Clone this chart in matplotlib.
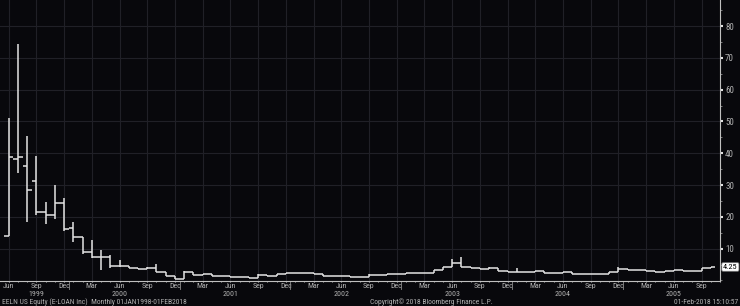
import numpy as np
import matplotlib
matplotlib.use("Agg")
import matplotlib.pyplot as plt
from matplotlib.ticker import MultipleLocator
from matplotlib import font_manager

names = set(f.name for f in font_manager.fontManager.ttflist)
fams = [f for f in ['Liberation Sans Narrow', 'DejaVu Sans Condensed', 'Roboto Condensed'] if f in names]
plt.rcParams['font.family'] = fams + ['DejaVu Sans']
narrow = len(fams) > 0

# monthly bars, Jun 1999 .. Oct 2005
months = ['Jun', 'Jul', 'Aug', 'Sep', 'Oct', 'Nov', 'Dec', 'Jan', 'Feb', 'Mar', 'Apr', 'May']
start_year = 1999
opens = [14.0, 38.2, 36.1, 31.4, 21.5, 20.7, 24.3, 16.5, 13.6, 8.9, 7.3, 7.5,
         4.7, 4.7, 4.0, 3.5, 4.0, 2.8, 1.4, 0.4, 2.8, 1.7, 1.9, 1.4,
         1.4, 1.2, 1.2, 0.7, 1.7, 1.4, 1.9, 2.3, 2.3, 2.3, 2.0, 1.4,
         1.4, 1.4, 1.2, 1.2, 1.6, 1.7, 1.9, 1.9, 2.4, 2.4, 2.4, 3.3,
         4.3, 5.6, 4.1, 3.9, 3.7, 3.8, 3.1, 2.8, 2.6, 2.8, 3.1, 2.3,
         2.3, 2.6, 1.9, 1.9, 2.0, 2.0, 2.6, 3.5, 3.4, 3.3, 3.0, 2.7,
         2.9, 3.2, 3.1, 3.1, 4.0]
highs = [51.0, 74.4, 45.5, 39.2, 24.8, 30.0, 25.8, 18.3, 13.6, 12.7, 9.6, 8.0,
         6.4, 4.7, 4.0, 4.2, 5.1, 2.8, 1.4, 3.0, 2.8, 1.9, 1.9, 1.4,
         1.4, 1.2, 1.2, 1.9, 1.7, 1.9, 2.3, 2.4, 2.3, 2.3, 2.0, 1.4,
         1.4, 1.4, 1.2, 1.9, 1.7, 1.9, 1.9, 2.4, 2.4, 2.4, 3.3, 4.3,
         6.9, 7.5, 4.1, 3.9, 4.1, 3.8, 3.1, 3.8, 2.8, 3.1, 3.1, 2.3,
         2.6, 2.6, 1.9, 2.0, 2.0, 2.6, 4.3, 3.5, 3.4, 3.3, 3.0, 2.9,
         3.2, 3.2, 3.1, 4.0, 4.25]
lows = [14.0, 33.7, 18.5, 20.6, 17.8, 19.2, 15.7, 12.2, 8.2, 7.0, 3.3, 3.8,
        4.3, 4.0, 3.5, 3.5, 2.8, 1.4, 0.4, 0.4, 1.7, 1.7, 1.4, 1.4,
        1.2, 1.2, 0.7, 0.7, 1.4, 1.4, 1.9, 2.3, 2.3, 2.0, 1.4, 1.4,
        1.4, 1.2, 1.2, 1.2, 1.6, 1.7, 1.9, 1.9, 2.4, 2.4, 2.4, 3.3,
        4.3, 4.1, 3.9, 3.7, 3.7, 3.1, 2.8, 2.6, 2.6, 2.8, 2.3, 2.3,
        2.3, 1.9, 1.9, 1.9, 2.0, 2.0, 2.6, 3.4, 3.3, 3.0, 2.7, 2.7,
        2.9, 3.1, 3.1, 3.1, 4.0]
closes = [38.7, 38.9, 28.5, 21.5, 20.6, 24.3, 16.2, 13.6, 8.9, 7.3, 7.5, 4.7,
          4.7, 4.0, 3.5, 4.0, 2.8, 1.4, 0.4, 2.8, 1.7, 1.9, 1.4, 1.4,
          1.2, 1.2, 0.7, 1.7, 1.4, 1.9, 2.3, 2.3, 2.3, 2.0, 1.4, 1.4,
          1.4, 1.2, 1.2, 1.6, 1.7, 1.9, 1.9, 2.4, 2.4, 2.4, 3.3, 4.3,
          5.6, 4.1, 3.9, 3.7, 3.8, 3.1, 2.8, 2.6, 2.8, 3.1, 2.3, 2.3,
          2.6, 1.9, 1.9, 2.0, 2.0, 2.6, 3.5, 3.4, 3.3, 3.0, 2.7, 2.9,
          3.2, 3.1, 3.1, 4.0, 4.25]
last_price = 4.25

bg = '#08080c'
grid_c = '#202027'
txt_c = '#b0b0b0'
bar_c = '#e4e4e4'

x = np.arange(len(closes))

fig = plt.figure(figsize=(7.4, 3.06), dpi=100, facecolor=bg)
ax = fig.add_axes([0.0, 25 / 306, 720 / 740, 281 / 306])
ax.set_facecolor(bg)

ax.vlines(x, lows, highs, color=bar_c, lw=1.1)
ax.hlines(opens, x - 0.5, x, color=bar_c, lw=1.1)
ax.hlines(closes, x, x + 0.5, color=bar_c, lw=1.1)

ax.set_xlim(-0.94, 77.0)
ax.set_ylim(-0.16, 88.2)

lab_fs = 5.7 if narrow else 5.0

# x ticks every 3 months
tick_idx = np.arange(0, len(closes), 3)
ax.set_xticks(tick_idx)
ax.set_xticklabels([months[i % 12] for i in tick_idx], fontsize=lab_fs, color=txt_c)
ax.xaxis.set_minor_locator(MultipleLocator(1))
ax.tick_params(axis='x', which='major', length=1.0, color='#d0d0d0', pad=0.2)
ax.tick_params(axis='x', which='minor', length=1.0, color='#d0d0d0')

# year labels and separators
trans = ax.get_xaxis_transform()
year_pos = [3, 12, 24, 36, 48, 60, 72]
for xp in year_pos:
    yr = start_year + (xp + 5) // 12
    ax.text(xp, -0.047, str(yr), transform=trans, ha='center', va='center',
            fontsize=lab_fs, color=txt_c)
for sep in [6.5, 18.5, 30.5, 42.5, 54.5, 66.5]:
    ax.plot([sep, sep], [0, -0.03], transform=trans, color='#8a8a8a', lw=0.6,
            clip_on=False)

# y axis on the right
ax.yaxis.tick_right()
ax.set_yticks(np.arange(10, 81, 10))
ax.set_yticklabels([str(v) for v in range(10, 81, 10)], fontsize=lab_fs + 0.8, color=txt_c)
ax.yaxis.set_minor_locator(MultipleLocator(5))
ax.tick_params(axis='y', which='major', length=2.5, width=1.5, color='#e0e0e0', pad=1.2)
ax.tick_params(axis='y', which='minor', length=1.5, color='#909090')

ax.grid(True, which='major', color=grid_c, lw=0.8)
for s in ['top', 'left']:
    ax.spines[s].set_visible(False)
for s in ['right', 'bottom']:
    ax.spines[s].set_color('#c0c0c0')
    ax.spines[s].set_linewidth(0.8)

ax.annotate('%.2f' % last_price, xy=(1.0, last_price), xycoords=('axes fraction', 'data'),
            xytext=(2.2, 0), textcoords='offset points', ha='left', va='center',
            fontsize=lab_fs + 0.3, color='black', annotation_clip=False,
            bbox=dict(boxstyle='round,pad=0.15', fc='white', ec='#808080', lw=0.5))

foot_fs = 5.4 if narrow else 4.2
fig.text(0.003, 0.012, 'EELN US Equity (E-LOAN Inc)  Monthly 01JAN1998-01FEB2018',
         fontsize=foot_fs, color=txt_c, ha='left', va='center')
fig.text(0.5, 0.012, 'Copyright\u00a9 2018 Bloomberg Finance L.P.',
         fontsize=foot_fs, color=txt_c, ha='left', va='center')
fig.text(0.997, 0.012, '01-Feb-2018 15:10:57',
         fontsize=foot_fs, color=txt_c, ha='right', va='center')

fig.savefig('out.png', dpi=100, facecolor=bg)
